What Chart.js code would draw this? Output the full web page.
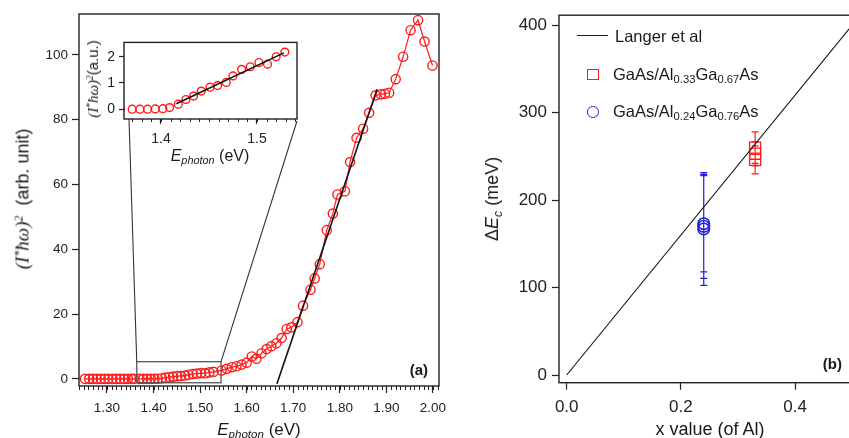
<!DOCTYPE html>
<html>
<head>
<meta charset="utf-8">
<script src="https://cdn.jsdelivr.net/npm/chart.js@4.4.0/dist/chart.umd.min.js"></script>
<style>
  html, body { margin: 0; padding: 0; background: #fff; }
  #wrap { position: relative; width: 849px; height: 438px; overflow: hidden;
          font-family: "Liberation Sans", Arial, sans-serif; color: #1a1a1a; }
  canvas { position: absolute; }
  .t { position: absolute; white-space: nowrap; line-height: 1; }
  .rot { transform: translate(-50%, -50%) rotate(-90deg); }
  .mid { transform: translateX(-50%); }
  .ser { font-family: "Liberation Serif", "Times New Roman", serif; font-style: italic; }
  .sb { position: relative; font-size: 0.68em; top: 0.3em; }
  .sp { position: relative; font-size: 0.62em; top: -0.55em; }
  .lg { position: absolute; box-sizing: border-box; }
</style>
</head>
<body>
<div id="wrap">
  <canvas id="chartA" width="480" height="438" style="left:0;top:0;width:480px;height:438px"></canvas>
  <canvas id="chartB" width="400" height="438" style="left:480px;top:0;width:400px;height:438px"></canvas>
  <canvas id="chartIn" width="230" height="150" style="left:80px;top:30px;width:230px;height:150px"></canvas>

  <!-- panel (a) titles -->
  <div class="t rot" style="left:22px;top:199px;font-size:18px"><span class="ser" style="font-size:19px">(I<span class="sp">*</span>ħω)<span class="sp">2</span></span>&nbsp; (arb. unit)</div>
  <div class="t mid" style="left:259px;top:420.6px;font-size:17px"><i>E</i><span class="sb"><i>photon</i></span> (eV)</div>
  <div class="t" style="left:428px;top:362.3px;font-size:15px;font-weight:bold;transform:translateX(-100%)">(a)</div>

  <!-- inset titles -->
  <div class="t rot" style="left:93px;top:79px;font-size:15px"><span class="ser">(I<span class="sp">*</span>ħω)<span class="sp">2</span></span>(a.u.)</div>
  <div class="t mid" style="left:210px;top:148.2px;font-size:16px"><i>E</i><span class="sb"><i>photon</i></span> (eV)</div>

  <!-- panel (b) titles -->
  <div class="t rot" style="left:492px;top:199px;font-size:18px">Δ<i>E</i><span class="sb"><i>c</i></span> (meV)</div>
  <div class="t mid" style="left:710px;top:419.8px;font-size:18px">x value (of Al)</div>
  <div class="t" style="left:842px;top:356.3px;font-size:15px;font-weight:bold;transform:translateX(-100%)">(b)</div>

  <!-- panel (b) legend -->
  <div class="lg" style="left:577px;top:35px;width:31px;height:1.3px;background:#222"></div>
  <div class="t" style="left:615px;top:27.7px;font-size:16.5px">Langer et al</div>
  <div class="lg" style="left:587px;top:68.5px;width:11.5px;height:11.5px;border-style:solid;border-width:1.4px;border-color:#ff1a1a"></div>
  <div class="t" style="left:613px;top:66px;font-size:16.5px">GaAs/Al<span class="sb">0.33</span>Ga<span class="sb">0.67</span>As</div>
  <div class="lg" style="left:587px;top:106px;width:11.5px;height:11.5px;border-style:solid;border-width:1.4px;border-color:#2020e0;border-radius:50%"></div>
  <div class="t" style="left:613px;top:103px;font-size:16.5px">GaAs/Al<span class="sb">0.24</span>Ga<span class="sb">0.76</span>As</div>
</div>

<script>
// panel (a): (I*hw)^2 against photon energy
const energy = [1.253, 1.262, 1.270, 1.278, 1.287, 1.295, 1.303, 1.312, 1.320, 1.328, 1.337, 1.345, 1.353, 1.358,
  1.370, 1.378, 1.386, 1.394, 1.402, 1.409, 1.418, 1.426, 1.434, 1.442, 1.451, 1.459, 1.468, 1.475, 1.484, 1.493,
  1.502, 1.511, 1.520, 1.529, 1.546, 1.557, 1.568, 1.578, 1.589, 1.600, 1.611, 1.621, 1.632, 1.643, 1.653, 1.664,
  1.675, 1.686, 1.696, 1.709, 1.721, 1.737, 1.746, 1.757, 1.772, 1.785, 1.795, 1.811, 1.822, 1.836, 1.850, 1.863,
  1.877, 1.888, 1.897, 1.906, 1.920, 1.936, 1.952, 1.968, 1.982, 1.999];
const signal = [0, 0, 0, 0, 0, 0, 0, 0, 0, 0, 0, 0, 0, 0,
  0, 0, 0, 0.01, 0.02, 0.06, 0.19, 0.37, 0.50, 0.69, 0.84, 0.90, 1.02, 1.27, 1.52, 1.62,
  1.78, 1.72, 2.00, 2.18, 2.6, 3.1, 3.6, 3.9, 4.4, 5.0, 6.9, 6.2, 7.9, 9.2, 10.1, 11.0,
  12.6, 15.4, 15.9, 17.5, 22.6, 27.5, 31.0, 35.4, 45.9, 51.0, 56.9, 57.9, 66.9, 74.4, 77.2, 82.1,
  87.5, 87.8, 88.0, 88.3, 92.5, 99.4, 107.6, 110.7, 104.1, 96.7];
const fitX = [1.665, 1.880];
const fitY = [-1.5, 89.4];
const insetFitX = [1.416, 1.528];
const insetFitY = [0.21, 2.15];
const zoomBoxX = [1.364, 1.545];
const zoomBoxY = [-1.2, 5.3];

// panel (b): conduction band offset against Al fraction
const langerX = [0, 0.52];
const langerY = [0, 416];
const x33 = [0.33, 0.33, 0.33];
const dEc33 = [260, 253, 246];
const err33 = [18, 14, 16];
const x24 = [0.24, 0.24, 0.24];
const dEc24 = [173, 170, 167];
const err24 = [55, 59.5, 64.5];

const ink = '#222';
const red = '#ff1a1a';
const blue = '#2020e0';
const insetPos = {left: 80, top: 30};

const pts = (xs, ys) => xs.map((x, i) => ({x: x, y: ys[i]}));

function axis(min, max, step, digits, size, tick, pad, fixed, isX) {
  return {
    type: 'linear', min: min, max: max,
    border: {display: false},
    grid: {drawOnChartArea: false, drawTicks: true, tickLength: tick, color: ink, tickColor: ink, tickWidth: 1.2},
    ticks: {stepSize: step, includeBounds: false, autoSkip: false, maxRotation: 0, color: ink, padding: pad,
      font: {family: 'Liberation Sans', size: size},
      callback: v => v.toFixed(digits)},
    afterFit: s => { if (isX) s.height = fixed; else s.width = fixed; }
  };
}

// box round the plot area, plus small minor ticks on x
const frame = (minorStep, minorLen) => ({
  id: 'frame',
  afterDraw(chart) {
    const {ctx, chartArea: a, scales} = chart;
    ctx.save();
    ctx.strokeStyle = ink;
    ctx.lineWidth = 1.4;
    ctx.strokeRect(a.left, a.top, a.right - a.left, a.bottom - a.top);
    if (minorStep) {
      const xs = scales.x;
      ctx.lineWidth = 1;
      ctx.beginPath();
      for (let k = Math.ceil(xs.min / minorStep); k * minorStep <= xs.max; k++) {
        const px = Math.round(xs.getPixelForValue(k * minorStep)) + 0.5;
        ctx.moveTo(px, a.bottom);
        ctx.lineTo(px, a.bottom + minorLen);
      }
      ctx.stroke();
    }
    ctx.restore();
  }
});

const baseOpts = {
  responsive: false, animation: false,
  layout: {autoPadding: false},
  plugins: {legend: {display: false}, tooltip: {enabled: false}}
};

// inset first, the main panel draws lines up to it
const insetChart = new Chart(document.getElementById('chartIn'), {
  type: 'scatter',
  data: {datasets: [
    {data: pts(insetFitX, insetFitY), showLine: true, borderColor: '#111', borderWidth: 1.6, pointRadius: 0},
    {data: pts(energy, signal), pointStyle: 'circle', pointRadius: 3.9, borderWidth: 1.4,
      borderColor: red, pointBackgroundColor: 'rgba(0,0,0,0)'}
  ]},
  options: Object.assign({}, baseOpts, {
    layout: {autoPadding: false, padding: {left: 0, top: 11, right: 13, bottom: 21}},
    scales: {
      x: axis(1.3615, 1.5417, 0.1, 1, 14, 5, 7, 40, true),
      y: axis(-0.375, 2.55, 1, 0, 14, 5, 4, 44, false)
    }
  }),
  plugins: [frame(0.01, 3)]
});

const zoomBox = {
  id: 'zoomBox',
  afterDatasetsDraw(chart) {
    const {ctx, scales: {x, y}} = chart;
    const l = x.getPixelForValue(zoomBoxX[0]), r = x.getPixelForValue(zoomBoxX[1]);
    const t = y.getPixelForValue(zoomBoxY[1]), b = y.getPixelForValue(zoomBoxY[0]);
    const ia = insetChart.chartArea;
    ctx.save();
    ctx.strokeStyle = '#555';
    ctx.lineWidth = 1.3;
    ctx.strokeRect(l, t, r - l, b - t);
    ctx.strokeStyle = '#333';
    ctx.lineWidth = 1.1;
    ctx.beginPath();
    ctx.moveTo(l, t); ctx.lineTo(ia.left + insetPos.left + 5, ia.bottom + insetPos.top);
    ctx.moveTo(r, t); ctx.lineTo(ia.right + insetPos.left, ia.bottom + insetPos.top + 2);
    ctx.stroke();
    ctx.restore();
  }
};

new Chart(document.getElementById('chartA'), {
  type: 'scatter',
  data: {datasets: [
    {data: pts(fitX, fitY), showLine: true, borderColor: '#111', borderWidth: 1.6, pointRadius: 0},
    {data: pts(energy, signal), showLine: true, borderColor: red, borderWidth: 1.2,
      pointStyle: 'circle', pointRadius: 4.6, pointBorderWidth: 1.4, pointBackgroundColor: 'rgba(0,0,0,0)'}
  ]},
  options: Object.assign({}, baseOpts, {
    layout: {autoPadding: false, padding: {left: 19, top: 14, right: 41, bottom: 12}},
    scales: {
      x: axis(1.24, 2.013, 0.1, 2, 13.5, 7, 7, 40, true),
      y: axis(-2.2, 112.6, 20, 0, 13.5, 7, 4, 60, false)
    }
  }),
  plugins: [frame(0.01, 4), zoomBox]
});

const errorBars = {
  id: 'errorBars',
  beforeDatasetsDraw(chart) {
    const {ctx, scales: {x, y}} = chart;
    const sets = [[x33, dEc33, err33, red], [x24, dEc24, err24, blue]];
    ctx.save();
    ctx.lineWidth = 1.2;
    sets.forEach(([xs, ys, es, col]) => {
      ctx.strokeStyle = col;
      ctx.beginPath();
      xs.forEach((xv, i) => {
        const px = x.getPixelForValue(xv);
        const top = y.getPixelForValue(ys[i] + es[i]);
        const bot = y.getPixelForValue(ys[i] - es[i]);
        ctx.moveTo(px, top); ctx.lineTo(px, bot);
        ctx.moveTo(px - 3.5, top); ctx.lineTo(px + 3.5, top);
        ctx.moveTo(px - 3.5, bot); ctx.lineTo(px + 3.5, bot);
      });
      ctx.stroke();
    });
    ctx.restore();
  }
};

new Chart(document.getElementById('chartB'), {
  type: 'scatter',
  data: {datasets: [
    {data: pts(langerX, langerY), showLine: true, borderColor: '#111', borderWidth: 1.1, pointRadius: 0},
    {data: pts(x33, dEc33), pointStyle: 'rect', pointRadius: 7.8, borderWidth: 1.3,
      borderColor: red, pointBackgroundColor: 'rgba(0,0,0,0)'},
    {data: pts(x24, dEc24), pointStyle: 'circle', pointRadius: 5.8, borderWidth: 1.5,
      borderColor: blue, pointBackgroundColor: 'rgba(0,0,0,0)'}
  ]},
  options: Object.assign({}, baseOpts, {
    layout: {autoPadding: false, padding: {left: 19, top: 15, right: 16.4, bottom: 15.3}},
    scales: {
      x: axis(-0.0135, 0.52, 0.2, 1, 17, 7, 7, 40, true),
      y: axis(-8.8, 411.4, 100, 0, 17, 7, 5, 60, false)
    }
  }),
  plugins: [frame(0, 0), errorBars]
});
</script>
</body>
</html>
